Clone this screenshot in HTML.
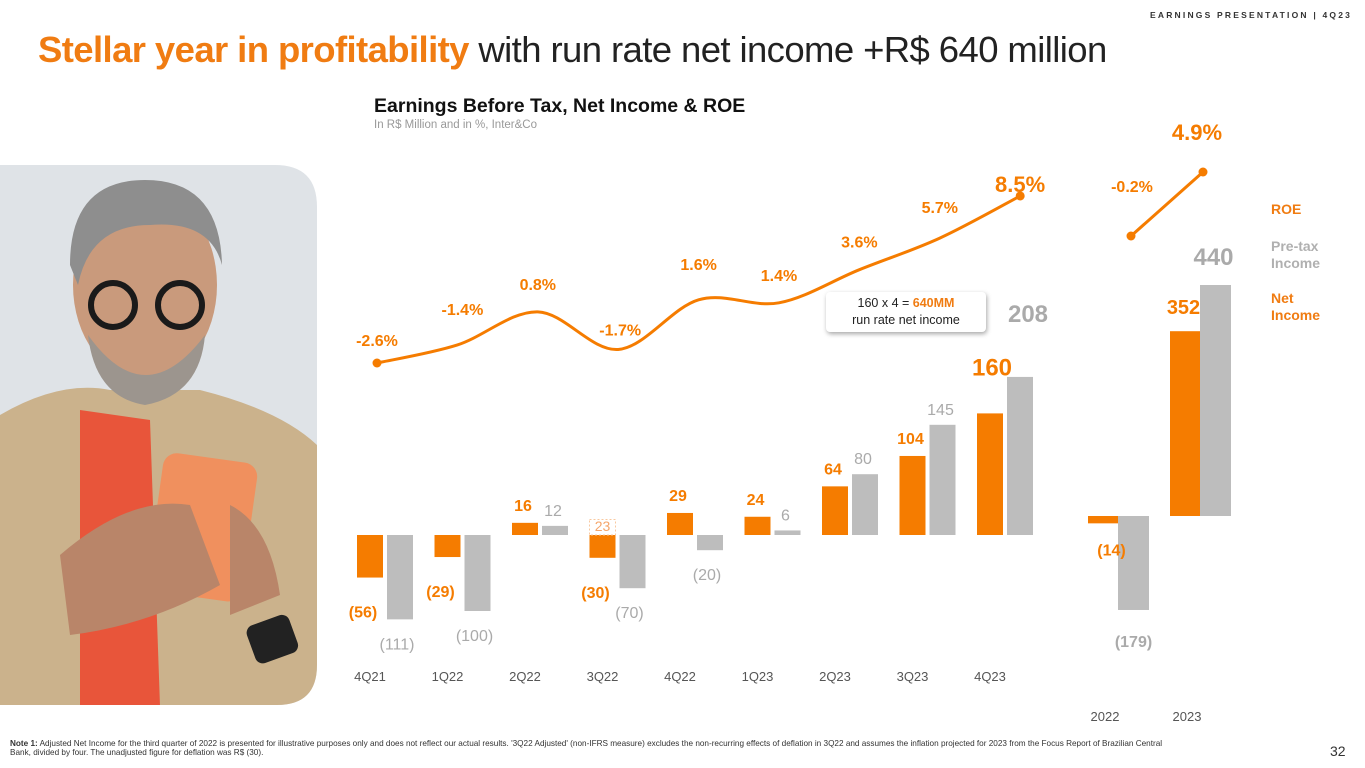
<!DOCTYPE html>
<html><head><meta charset="utf-8">
<style>
html,body{margin:0;padding:0;background:#fff;}
body{width:1365px;height:768px;position:relative;overflow:hidden;font-family:"Liberation Sans",sans-serif;}
.abs{position:absolute;}
</style></head>
<body>
<div class="abs" style="left:1150px;top:10px;font-size:8.5px;letter-spacing:2.2px;color:#333;font-weight:bold;white-space:nowrap;">EARNINGS PRESENTATION | 4Q23</div>
<div class="abs" style="left:38px;top:29px;font-size:36.5px;color:#222;letter-spacing:-0.6px;white-space:nowrap;"><span style="color:#f07c12;font-weight:bold;">Stellar year in profitability</span> with run rate net income +R$ 640 million</div>
<div class="abs" style="left:374px;top:95px;font-size:19.5px;font-weight:bold;color:#111;white-space:nowrap;">Earnings Before Tax, Net Income &amp; ROE</div>
<div class="abs" style="left:374px;top:119px;font-size:11.5px;color:#999;">In R$ Million and in %, Inter&amp;Co</div>

<svg class="abs" style="left:0;top:165px" width="318" height="541" viewBox="0 0 318 541">
<defs><clipPath id="cp"><path d="M0 0 H275 Q317 0 317 42 V500 Q317 540 277 540 H0 Z"/></clipPath></defs>
<g clip-path="url(#cp)">
<rect width="318" height="541" fill="#dfe3e7"/>
<path d="M0 250 Q60 215 110 225 L200 225 Q280 245 317 280 V541 H0 Z" fill="#cbb28c"/>
<path d="M80 245 L150 255 L160 541 H80 Z" fill="#e8553a"/>
<ellipse cx="145" cy="120" rx="72" ry="95" fill="#c99a7c"/>
<path d="M70 100 Q70 15 145 15 Q220 15 222 100 Q210 55 150 60 Q90 60 78 120 Z" fill="#8e8e8e"/>
<path d="M88 170 Q145 250 205 170 Q200 230 145 240 Q95 232 88 170Z" fill="#9c958e"/>
<circle cx="113" cy="140" r="22" fill="none" stroke="#1a1a1a" stroke-width="6"/>
<circle cx="180" cy="140" r="22" fill="none" stroke="#1a1a1a" stroke-width="6"/>
<rect x="155" y="292" width="95" height="140" rx="14" fill="#f0905e" transform="rotate(8 200 360)"/>
<path d="M60 390 Q130 330 190 340 L220 420 Q150 460 70 470 Z" fill="#b98569"/>
<path d="M230 340 Q270 360 280 430 L230 450 Z" fill="#b98569"/>
<rect x="250" y="455" width="45" height="40" rx="8" fill="#222" transform="rotate(-20 270 475)"/>
</g>
</svg>

<svg id="chart" class="abs" style="left:0;top:0" width="1365" height="768"></svg>

<div class="abs" style="left:1271px;top:201px;font-size:14px;font-weight:bold;color:#f07c12;">ROE</div>
<div class="abs" style="left:1271px;top:238px;font-size:14px;font-weight:bold;color:#b0b0b0;line-height:17px;">Pre-tax<br>Income</div>
<div class="abs" style="left:1271px;top:290px;font-size:14px;font-weight:bold;color:#f07c12;line-height:17px;">Net<br>Income</div>

<div class="abs" style="left:826px;top:292px;width:160px;height:40px;background:#fff;border-radius:4px;box-shadow:1px 2px 5px rgba(0,0,0,0.35);text-align:center;font-size:12.5px;color:#222;line-height:17px;padding-top:3px;box-sizing:border-box;">160 x 4 = <b style="color:#f07c12">640MM</b><br>run rate net income</div>

<div class="abs" style="left:10px;top:739px;width:1170px;font-size:8.2px;color:#333;line-height:9px;"><b>Note 1:</b> Adjusted Net Income for the third quarter of 2022 is presented for illustrative purposes only and does not reflect our actual results. '3Q22 Adjusted' (non-IFRS measure) excludes the non-recurring effects of deflation in 3Q22 and assumes the inflation projected for 2023 from the Focus Report of Brazilian Central Bank, divided by four. The unadjusted figure for deflation was R$ (30).</div>
<div class="abs" style="left:1330px;top:743px;font-size:14px;color:#333;">32</div>

<script>
const quarters=["4Q21","1Q22","2Q22","3Q22","4Q22","1Q23","2Q23","3Q23","4Q23"];
const netIncome=[-56,-29,16,-30,29,24,64,104,160];
const preTax=[-111,-100,12,-70,-20,6,80,145,208];
const roe=[-2.6,-1.4,0.8,-1.7,1.6,1.4,3.6,5.7,8.5];
const years=["2022","2023"];
const netYear=[-14,352];
const preYear=[-179,440];
const roeYear=[-0.2,4.9];
const adj3Q22=23;

const NS="http://www.w3.org/2000/svg";
const svg=document.getElementById('chart');
function el(t,a,txt){const e=document.createElementNS(NS,t);for(const k in a)e.setAttribute(k,a[k]);if(txt!==undefined)e.textContent=txt;svg.appendChild(e);return e;}
const OR="#f57c00",GR="#bdbdbd",GT="#aaaaaa";
function fmt(v){return v<0?"("+(-v)+")":""+v;}
const x0=357,step=77.5,bw=26,zero=535,k=0.76;
const xq=i=>x0+i*step;
const yq=v=>zero-v*k;
for(let i=0;i<quarters.length;i++){
  const xo=xq(i),xg=xo+30;
  const n=netIncome[i],p=preTax[i];
  let r=el('rect',{x:xo,y:Math.min(yq(n),zero),width:bw,height:Math.abs(n*k),fill:OR});
  
  
  r=el('rect',{x:xg,y:Math.min(yq(p),zero),width:bw,height:Math.abs(p*k),fill:GR});
  
  
  const last=i===quarters.length-1;
  let t;
  if(n>=0) t=el('text',{x:xo+bw/2-(last?-2:2),y:yq(n)-(last?38:12),'text-anchor':'middle','font-size':last?24:16,'font-weight':'bold',fill:OR},fmt(n));
  else t=el('text',{x:xo+bw/2-7,y:yq(n)+40,'text-anchor':'middle','font-size':16,'font-weight':'bold',fill:OR},fmt(n));
  
  
  if(p>=0) t=el('text',{x:xg+bw/2+(last?8:-2),y:yq(p)-(last?55:10),'text-anchor':'middle','font-size':last?24:16,'font-weight':last?'bold':'normal',fill:GT},fmt(p));
  else t=el('text',{x:xg+bw/2-3,y:yq(p)+30,'text-anchor':'middle','font-size':16,fill:GT},fmt(p));
  
  
  t=el('text',{x:xo+bw/2,y:681,'text-anchor':'middle','font-size':13,fill:'#555'},quarters[i]);
  
  
}
const ia=quarters.indexOf("3Q22");
let bx=el('rect',{x:xq(ia),y:yq(adj3Q22)+2,width:bw,height:adj3Q22*k-2,fill:'#fff',stroke:'#f8c9a0','stroke-dasharray':'2 2'});


bx=el('text',{x:xq(ia)+bw/2,y:zero-4,'text-anchor':'middle','font-size':14,fill:'#f5a56a'},adj3Q22);


const rx0=377,rstep=80.4,ry0=363,rk=15.05;
const xr=i=>rx0+i*rstep, yr=v=>ry0-(v-roe[0])*rk;
const pts=roe.map((v,i)=>[xr(i),yr(v)]);
let d="M"+pts[0][0]+" "+pts[0][1];
for(let i=0;i<pts.length-1;i++){
  const p0=pts[Math.max(i-1,0)],p1=pts[i],p2=pts[i+1],p3=pts[Math.min(i+2,pts.length-1)];
  const c1=[p1[0]+(p2[0]-p0[0])/6,p1[1]+(p2[1]-p0[1])/6];
  const c2=[p2[0]-(p3[0]-p1[0])/6,p2[1]-(p3[1]-p1[1])/6];
  d+=` C${c1[0]} ${c1[1]} ${c2[0]} ${c2[1]} ${p2[0]} ${p2[1]}`;
}
let ln=el('path',{d:d,fill:'none',stroke:OR,'stroke-width':3});


[0,roe.length-1].forEach(i=>{const c=el('circle',{cx:pts[i][0],cy:pts[i][1],r:4.5,fill:OR});

});
const roeOff=[[0,-17],[5,-30],[0,-22],[2,-14],[0,-30],[0,-22],[0,-22],[0,-25],[25,-4]];
roe.forEach((v,i)=>{const big=i===roe.length-1;
const t=el('text',{x:pts[i][0]+roeOff[i][0],y:pts[i][1]+roeOff[i][1],'text-anchor':big?'end':'middle','font-size':big?22:16,'font-weight':'bold',fill:OR},v.toFixed(1)+"%");

});
const ax0=1088,astep=82,awid=31,az=516,ak=0.525;
const ya=v=>az-v*ak;
for(let i=0;i<years.length;i++){
  const xo=ax0+i*astep,xg=xo+30;
  let r=el('rect',{x:xo,y:Math.min(ya(netYear[i]),az),width:awid,height:Math.abs(netYear[i]*ak),fill:OR});
  
  
  r=el('rect',{x:xg,y:Math.min(ya(preYear[i]),az),width:awid,height:Math.abs(preYear[i]*ak),fill:GR});
  
  
  let t=netYear[i]>=0?el('text',{x:xo+awid/2-2,y:ya(netYear[i])-17,'text-anchor':'middle','font-size':20,'font-weight':'bold',fill:OR},fmt(netYear[i]))
     :el('text',{x:xo+awid/2+8,y:ya(netYear[i])+32,'text-anchor':'middle','font-size':16,'font-weight':'bold',fill:OR},fmt(netYear[i]));
  
  
  t=preYear[i]>=0?el('text',{x:xg+awid/2-2,y:ya(preYear[i])-20,'text-anchor':'middle','font-size':24,'font-weight':'bold',fill:GT},fmt(preYear[i]))
     :el('text',{x:xg+awid/2,y:ya(preYear[i])+37,'text-anchor':'middle','font-size':16,'font-weight':'bold',fill:GT},fmt(preYear[i]));
  
  
  t=el('text',{x:xo+awid-14,y:721,'text-anchor':'middle','font-size':13,fill:'#555'},years[i]);
  
  
}
const arx=i=>1131+i*72, ary=v=>236-(v-roeYear[0])*12.55;
ln=el('line',{x1:arx(0),y1:ary(roeYear[0]),x2:arx(1),y2:ary(roeYear[1]),stroke:OR,'stroke-width':3});


roeYear.forEach((v,i)=>{const c=el('circle',{cx:arx(i),cy:ary(v),r:4.5,fill:OR});


const t=el('text',{x:i?arx(i)-6:arx(i)+1,y:i?ary(v)-32:ary(v)-44,'text-anchor':'middle','font-size':i?22:16,'font-weight':'bold',fill:OR},v.toFixed(1)+"%");

});
</script>
</body></html>
